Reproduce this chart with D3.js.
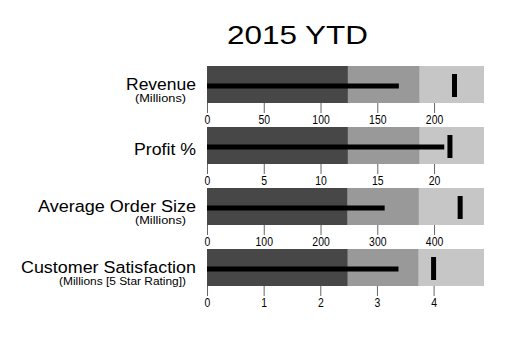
<!DOCTYPE html>
<html>
<head>
<meta charset="utf-8">
<script src="https://cdn.jsdelivr.net/npm/d3@7"></script>
<style>
  html, body { margin: 0; padding: 0; background: #fff; }
  svg text { font-family: "Liberation Sans", Arial, sans-serif; fill: #000; }
</style>
</head>
<body>
<svg id="chart" width="524" height="340"></svg>
<script>
// ---- data ----
const chartTitle = "2015 YTD";
const titles = ["Revenue", "Profit %", "Average Order Size", "Customer Satisfaction"];
const subtitles = ["(Millions)", "", "(Millions)", "(Millions [5 Star Rating])"];
const rangesPoor = [124, 12.4, 247, 2.48];
const rangesSatisfactory = [187, 18.7, 373, 3.73];
const rangesGood = [244, 24.4, 488, 4.89];
const measures = [169, 20.9, 313, 3.38];
const targets = [218, 21.4, 446, 4.0];
const tickValues = [
  [0, 50, 100, 150, 200],
  [0, 5, 10, 15, 20],
  [0, 100, 200, 300, 400],
  [0, 1, 2, 3, 4]
];

// ---- layout ----
const svg = d3.select("#chart");
const left = 207, width = 277, top0 = 66, rowStep = 61, barH = 37;
const labelRight = 196, subRight = 186;
const titleLens = [70, 62, 158, 175];
const subLens = [51, 0, 51, 127];

svg.append("text")
  .attr("x", 297.5 - 70.5).attr("y", 43.5)
  .attr("font-size", 26)
  .attr("textLength", 141).attr("lengthAdjust", "spacingAndGlyphs")
  .text(chartTitle);

const colors = ["#c6c6c6", "#999999", "#474747"];

titles.forEach((t, i) => {
  const top = top0 + i * rowStep;
  const x = d3.scaleLinear().domain([0, rangesGood[i]]).range([0, width]);
  const g = svg.append("g").attr("transform", `translate(${left},${top})`);

  const ranges = [rangesGood[i], rangesSatisfactory[i], rangesPoor[i]];
  g.selectAll("rect.range").data(ranges).join("rect")
    .attr("class", "range")
    .attr("x", 0).attr("y", 0)
    .attr("width", d => x(d)).attr("height", barH)
    .attr("fill", (d, k) => colors[k]);

  g.append("rect")
    .attr("x", 0).attr("y", 17.5)
    .attr("width", x(measures[i])).attr("height", 5)
    .attr("fill", "#000");

  g.append("rect")
    .attr("x", x(targets[i]) - 2.5).attr("y", 8)
    .attr("width", 5).attr("height", 23)
    .attr("fill", "#000");

  const axis = d3.axisBottom(x).tickValues(tickValues[i]).tickSize(10).tickPadding(2)
    .tickFormat(d3.format("d"));
  const ag = g.append("g").attr("transform", `translate(0,${barH})`).call(axis);
  ag.select(".domain").remove();
  ag.selectAll(".tick line").attr("stroke", "#666");
  ag.selectAll(".tick text")
    .attr("font-size", 13)
    .attr("font-family", "Liberation Sans, Arial, sans-serif")
    .attr("fill", "#000")
    .each(function(d) {
      const s = String(d);
      d3.select(this).attr("textLength", s.length * 5.8).attr("lengthAdjust", "spacingAndGlyphs");
    });

  const hasSub = subtitles[i] !== "";
  svg.append("text")
    .attr("x", labelRight - titleLens[i])
    .attr("y", top + (hasSub ? 23.5 : 27.5))
    .attr("font-size", 16)
    .attr("textLength", titleLens[i]).attr("lengthAdjust", "spacingAndGlyphs")
    .text(t);
  if (hasSub) {
    svg.append("text")
      .attr("x", subRight - subLens[i])
      .attr("y", top + 35.5)
      .attr("font-size", 10)
      .attr("textLength", subLens[i]).attr("lengthAdjust", "spacingAndGlyphs")
      .text(subtitles[i]);
  }
});
</script>
</body>
</html>
